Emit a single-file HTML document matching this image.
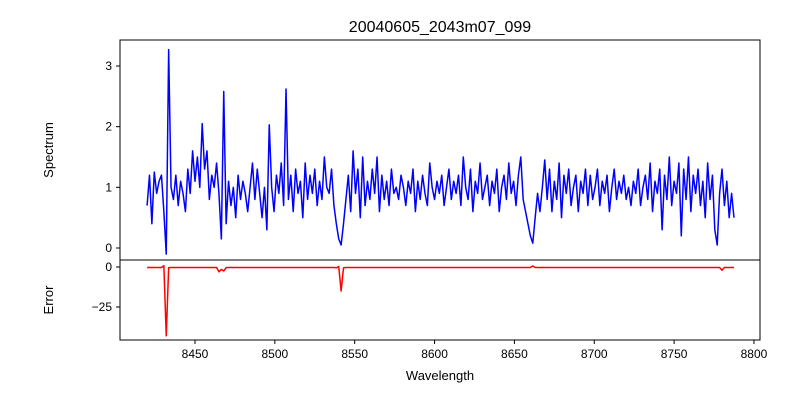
<!DOCTYPE html>
<html><head><meta charset="utf-8"><style>
body{margin:0;background:#fff}
svg text{font-family:"Liberation Sans",sans-serif;fill:#000}
</style></head><body>
<svg id="c" width="800" height="400" xmlns="http://www.w3.org/2000/svg"></svg>
<script>
const wlStart = 8420, wlStep = 1.5;
const spectrum = [
0.7,1.2,0.4,1.25,0.9,1.1,1.2,0.6,-0.1,3.27,
1.0,0.8,1.2,0.7,1.1,0.9,0.6,1.3,0.9,1.6,
1.1,1.5,1.0,2.05,1.3,1.6,0.8,1.2,1.0,1.4,
0.9,0.15,2.58,0.4,1.1,0.7,1.0,0.5,1.2,0.8,
1.1,0.9,0.6,1.0,1.4,0.8,1.3,0.9,0.5,1.0,
0.3,2.03,1.0,0.6,1.2,0.9,1.4,0.7,2.62,0.8,
1.2,0.6,1.3,0.9,1.1,0.5,1.4,0.8,1.2,0.9,
1.3,0.7,1.1,0.8,1.5,1.0,0.9,1.3,0.7,0.4,
0.15,0.05,0.4,0.8,1.2,0.6,1.6,0.9,1.3,0.5,
1.5,0.7,1.1,0.8,1.3,0.9,1.5,0.6,1.2,0.8,
1.1,0.7,1.3,0.9,1.0,0.8,1.2,1.0,0.7,1.1,
0.9,1.3,0.6,1.1,0.8,1.2,0.9,0.7,1.4,1.0,
0.8,1.1,0.9,1.2,0.7,1.0,1.3,0.8,1.1,0.9,
1.2,0.7,1.5,1.0,0.8,1.3,0.6,1.1,0.9,1.4,
0.8,1.0,1.2,0.7,1.1,0.9,1.3,0.6,1.0,1.2,
0.8,1.4,0.9,1.1,0.7,1.2,1.5,0.8,0.6,0.4,
0.2,0.08,0.5,0.9,0.6,1.0,1.45,0.8,1.3,0.6,
1.1,0.8,1.4,0.5,1.2,0.9,1.3,0.7,1.0,1.2,
0.6,1.1,0.9,1.3,0.7,1.2,0.8,1.0,1.3,0.7,
1.1,0.9,1.2,0.6,1.0,1.3,0.8,1.1,0.9,1.2,
0.8,1.0,0.7,1.1,0.9,1.3,0.7,1.0,1.2,0.8,
1.4,0.6,1.1,0.9,1.3,0.3,1.2,0.8,1.5,0.7,
1.1,0.9,1.4,0.2,1.3,0.8,1.5,0.6,1.2,0.9,
1.3,0.7,1.1,0.5,1.4,0.8,1.2,0.3,0.05,0.9,
1.3,0.7,1.1,0.5,0.9,0.5];
const errors = [
-0.3,-0.3,-0.3,-0.3,-0.3,-0.3,-0.3,0.8,-43,-0.5,
-0.3,-0.3,-0.3,-0.3,-0.3,-0.3,-0.3,-0.3,-0.3,-0.3,
-0.3,-0.3,-0.3,-0.3,-0.3,-0.3,-0.3,-0.3,-0.3,-0.3,
-3,-1.5,-2.5,-0.4,-0.3,-0.3,-0.3,-0.3,-0.3,-0.3,
-0.3,-0.3,-0.3,-0.3,-0.3,-0.3,-0.3,-0.3,-0.3,-0.3,
-0.3,-0.3,-0.3,-0.3,-0.3,-0.3,-0.3,-0.3,-0.3,-0.3,
-0.3,-0.3,-0.3,-0.3,-0.3,-0.3,-0.3,-0.3,-0.3,-0.3,
-0.3,-0.3,-0.3,-0.3,-0.3,-0.3,-0.3,-0.3,-0.3,-0.5,
0.3,-15,-0.5,-0.3,-0.3,-0.3,-0.3,-0.3,-0.3,-0.3,
-0.3,-0.3,-0.3,-0.3,-0.3,-0.3,-0.3,-0.3,-0.3,-0.3,
-0.3,-0.3,-0.3,-0.3,-0.3,-0.3,-0.3,-0.3,-0.3,-0.3,
-0.3,-0.3,-0.3,-0.3,-0.3,-0.3,-0.3,-0.3,-0.3,-0.3,
-0.3,-0.3,-0.3,-0.3,-0.3,-0.3,-0.3,-0.3,-0.3,-0.3,
-0.3,-0.3,-0.3,-0.3,-0.3,-0.3,-0.3,-0.3,-0.3,-0.3,
-0.3,-0.3,-0.3,-0.3,-0.3,-0.3,-0.3,-0.3,-0.3,-0.3,
-0.3,-0.3,-0.3,-0.3,-0.3,-0.3,-0.3,-0.3,-0.3,-0.3,
-0.3,0.6,-0.3,-0.3,-0.3,-0.3,-0.3,-0.3,-0.3,-0.3,
-0.3,-0.3,-0.3,-0.3,-0.3,-0.3,-0.3,-0.3,-0.3,-0.3,
-0.3,-0.3,-0.3,-0.3,-0.3,-0.3,-0.3,-0.3,-0.3,-0.3,
-0.3,-0.3,-0.3,-0.3,-0.3,-0.3,-0.3,-0.3,-0.3,-0.3,
-0.3,-0.3,-0.3,-0.3,-0.3,-0.3,-0.3,-0.3,-0.3,-0.3,
-0.3,-0.3,-0.3,-0.3,-0.3,-0.3,-0.3,-0.3,-0.3,-0.3,
-0.3,-0.3,-0.3,-0.3,-0.3,-0.3,-0.3,-0.3,-0.3,-0.3,
-0.3,-0.3,-0.3,-0.3,-0.3,-0.3,-0.3,-0.3,-0.3,-0.3,
-2,-0.3,-0.3,-0.3,-0.3,-0.3];
const xTicks = [8450,8500,8550,8600,8650,8700,8750,8800];
const specTicks = [0,1,2,3];
const errTicks = [0,-25];

const NS="http://www.w3.org/2000/svg", svg=document.getElementById('c');
function mk(t,a,p){const e=document.createElementNS(NS,t);for(const k in a)e.setAttribute(k,a[k]);(p||svg).appendChild(e);return e;}
const L=120,R=760,T1=40,B1=260,T2=260,B2=340;
const xS=w=>195+(w-8450)*1.597;
const yS=v=>248-v*60.67;
const yE=v=>267-v*1.6;

function line(vals,ys,color,name){
  let d='';vals.forEach((v,i)=>{d+=(i?'L':'M')+xS(wlStart+i*wlStep).toFixed(2)+','+ys(v).toFixed(2);});
  const p=mk('path',{d:d,fill:'none',stroke:color,'stroke-width':1.5,'stroke-linejoin':'round'});
  
  
}
line(spectrum,yS,'#0000ff','spectrum-line');
line(errors,yE,'#ff0000','error-line');

const f1=mk('rect',{x:L,y:T1,width:R-L,height:B1-T1,fill:'none',stroke:'#000','stroke-width':1});


const f2=mk('rect',{x:L,y:T2,width:R-L,height:B2-T2,fill:'none',stroke:'#000','stroke-width':1});



xTicks.forEach(t=>{const x=xS(t);
  mk('line',{x1:x,x2:x,y1:B2,y2:B2+4,stroke:'#000'});
  const tx=mk('text',{x:x,y:B2+18,'text-anchor':'middle','font-size':12});tx.textContent=t;
  
  
});
specTicks.forEach(t=>{const y=yS(t);
  mk('line',{x1:L-4,x2:L,y1:y,y2:y,stroke:'#000'});
  const tx=mk('text',{x:L-8,y:y+4,'text-anchor':'end','font-size':12});tx.textContent=t;
  
  
});
errTicks.forEach(t=>{const y=yE(t);
  mk('line',{x1:L-4,x2:L,y1:y,y2:y,stroke:'#000'});
  const tx=mk('text',{x:L-8,y:y+4,'text-anchor':'end','font-size':12});tx.textContent=t===0?'0':'\u221225';
  
  
});
function label(txt,x,y,rot,size,name){
  const a={x:x,y:y,'text-anchor':'middle','font-size':size};
  if(rot)a.transform='rotate(-90 '+x+' '+y+')';
  const t=mk('text',a);t.textContent=txt;
  
  
}
label('20040605_2043m07_099',440,32,false,16,'chart-title');
label('Spectrum',53,150,true,13,'spectrum-axis-title');
label('Error',53,300,true,13,'error-axis-title');
label('Wavelength',440,380,false,13,'x-axis-title');
</script>
</body></html>
